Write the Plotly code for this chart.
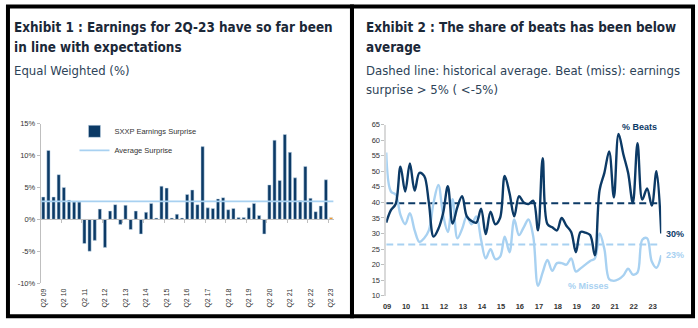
import pandas as pd
import plotly.graph_objects as go

W, H = 698, 328

# ---- Exhibit 1: quarterly SXXP earnings surprise, equal weighted (%) ----
surprise = [3.5, 10.8, 3.5, 7.0, 5.0, 3.0, 2.7, 2.7,
            -3.8, -5.0, -3.3, 1.6, -4.4, 1.3, 2.3, -0.8,
            2.2, -1.6, 1.3, -2.3, 1.1, 2.5, 0.2, 5.2,
            4.9, 0.2, 0.8, 0.2, 3.9, 4.6, 2.3, 11.4,
            1.8, 1.7, 3.2, 3.4, 1.5, 1.7, 0.3, 0.3,
            1.8, 2.5, 0.6, -2.3, 5.4, 12.4, 6.1, 13.3,
            10.5, 6.5, 2.9, 8.3, 3.3, 1.2, 2.1, 6.2,
            0.3]
average_surprise = 2.8
quarter_ticks = ["Q2 09", "Q2 10", "Q2 11", "Q2 12", "Q2 13", "Q2 14", "Q2 15",
                 "Q2 16", "Q2 17", "Q2 18", "Q2 19", "Q2 20", "Q2 21", "Q2 22",
                 "Q2 23"]
surprise_yticks = [-10, -5, 0, 5, 10, 15]
surprise_yticktext = ["-10%", "-5%", "0%", "5%", "10%", "15%"]

# ---- Exhibit 2: share of beats / misses (%) ----
beats = [33.5, 37.5, 39.5, 51.5, 43.5, 52.5, 43.8, 49.5, 48.5, 40.0,
         29.0, 31.5, 36.5, 45.2, 33.2, 38.5, 42.0, 35.5, 34.0, 33.5,
         38.0, 29.8, 37.0, 33.0, 35.0, 48.5, 43.0, 35.5, 42.0, 40.0,
         39.5, 40.5, 31.0, 54.2, 33.0, 32.0, 31.0, 35.0, 32.5, 30.5,
         24.0, 30.5, 30.3, 29.5, 23.0, 44.0, 49.5, 56.4, 41.6, 62.0,
         55.5, 49.5, 39.8, 59.0, 40.9, 44.5, 39.0, 50.0, 30.0]
misses = [56.0, 43.5, 42.5, 36.0, 33.0, 36.5, 31.0, 27.3, 28.5, 31.0,
          40.0, 45.6, 36.0, 30.5, 41.0, 28.5, 31.5, 35.5, 33.0, 35.5,
          28.0, 22.0, 25.0, 21.8, 22.5, 29.0, 24.0, 34.5, 29.5, 32.0,
          34.5, 29.0, 13.2, 17.5, 21.5, 18.0, 20.5, 20.5, 20.0, 22.0,
          17.8, 18.8, 20.0, 21.2, 22.0, 30.0, 25.0, 15.3, 14.8, 15.3,
          16.5, 18.7, 16.8, 17.5, 28.0, 28.5, 21.0, 19.0, 23.0]
beats_avg = 39.7
misses_avg = 26.5
year_ticks = ["09", "10", "11", "12", "13", "14", "15", "16",
              "17", "18", "19", "20", "21", "22", "23"]

NAVY = "#0c3a66"
LIGHT = "#a8d1f1"
ORANGE = "#f7941d"
TITLE = "#1b2838"
SUB = "#2d4358"
TICK = "#333333"
AXIS = "#bfbfbf"


def fx(px):
    return px / W


def fy(py):
    return 1 - py / H


fig = go.Figure()

# ---- left panel ----
cats = list(range(len(surprise)))
bar_colors = [NAVY] * (len(surprise) - 1) + [ORANGE]
fig.add_trace(go.Bar(
    x=cats, y=surprise, name="SXXP Earnings Surprise",
    marker=dict(color=bar_colors, line=dict(color="#c9dcec", width=0.5)),
    xaxis="x", yaxis="y", showlegend=True,
))
fig.add_trace(go.Scatter(
    x=[-0.5, len(surprise) - 0.5], y=[average_surprise] * 2,
    mode="lines", name="Average Surprise",
    line=dict(color=LIGHT, width=1.8),
    xaxis="x2", yaxis="y", showlegend=True,
))

# ---- right panel ----
dates = pd.date_range("2008-12-01", periods=len(beats), freq="3MS") + pd.Timedelta(days=14)
fig.add_trace(go.Scatter(
    x=[dates[0], dates[-1]], y=[beats_avg] * 2, mode="lines",
    line=dict(color=NAVY, width=2, dash="7px,4px"),
    xaxis="x3", yaxis="y3", showlegend=False,
))
fig.add_trace(go.Scatter(
    x=[dates[0], dates[-1]], y=[misses_avg] * 2, mode="lines",
    line=dict(color=LIGHT, width=2, dash="7px,4px"),
    xaxis="x3", yaxis="y3", showlegend=False,
))
fig.add_trace(go.Scatter(
    x=dates, y=misses, mode="lines", name="% Misses",
    line=dict(color=LIGHT, width=2.4, shape="spline", smoothing=1.0),
    xaxis="x3", yaxis="y3", showlegend=False,
))
fig.add_trace(go.Scatter(
    x=dates, y=beats, mode="lines", name="% Beats",
    line=dict(color=NAVY, width=2.4, shape="spline", smoothing=1.0),
    xaxis="x3", yaxis="y3", showlegend=False,
))

small = dict(family="Liberation Sans, Arial, sans-serif", size=7.5, color=TICK)
y_dom_left = [fy(287), fy(123)]
zero_pos = y_dom_left[0] + (0 - surprise_yticks[0]) / (surprise_yticks[-1] - surprise_yticks[0]) * (y_dom_left[1] - y_dom_left[0])

fig.update_layout(
    width=W, height=H,
    margin=dict(l=0, r=0, t=0, b=0),
    paper_bgcolor="white", plot_bgcolor="white",
    bargap=0.38,
    xaxis=dict(
        domain=[fx(38), fx(333)], range=[-0.5, len(surprise) - 0.5],
        tickvals=cats[::4], ticktext=quarter_ticks, tickangle=-90,
        tickfont=dict(family="Liberation Sans, Arial, sans-serif", size=7, color=TICK),
        showgrid=False, zeroline=False, showline=False, ticks="",
        ticklabelstandoff=3, anchor="y", fixedrange=True,
    ),
    xaxis2=dict(
        domain=[fx(38), fx(333)], range=[-0.5, len(surprise) - 0.5],
        overlaying="x", anchor="free", position=zero_pos, side="bottom",
        tickvals=[c - 0.5 for c in cats[::4]], showticklabels=False,
        ticks="outside", ticklen=3, tickcolor=AXIS, tickwidth=1,
        showline=True, linecolor=AXIS, linewidth=1,
        showgrid=False, zeroline=False,
    ),
    yaxis=dict(
        domain=y_dom_left, range=[surprise_yticks[0], surprise_yticks[-1]],
        tickvals=surprise_yticks, ticktext=surprise_yticktext, tickfont=small,
        showgrid=False, zeroline=False, showline=True, linecolor=AXIS, linewidth=1,
        ticks="outside", ticklen=3, tickcolor=AXIS, anchor="x",
    ),
    xaxis3=dict(
        domain=[fx(386), fx(663)], range=[dates[0], dates[-1]], type="date",
        tickvals=[pd.Timestamp(f"20{t}-01-01") for t in year_ticks], ticktext=year_ticks,
        tickfont=dict(family="Liberation Sans, Arial, sans-serif", size=7.5,
                      color=TICK, weight="bold"),
        showgrid=False, zeroline=False, showline=False, ticks="",
        ticklabelstandoff=5, anchor="y3",
    ),
    yaxis3=dict(
        domain=[fy(300), fy(124)], range=[10, 65], dtick=5, tick0=10,
        tickfont=small, showgrid=False, zeroline=False,
        showline=True, linecolor="#d9d9d9", linewidth=1.5,
        ticks="outside", ticklen=3, tickcolor=AXIS, anchor="x3",
    ),
    legend=dict(
        x=fx(72), y=fy(116), xanchor="left", yanchor="top",
        font=dict(family="Liberation Sans, Arial, sans-serif", size=7.5, color=TICK),
        bgcolor="rgba(0,0,0,0)", itemwidth=30, tracegroupgap=4,
    ),
)

# panel frames
for x0, x1 in [(5, 351.5), (351.5, 695)]:
    fig.add_shape(type="rect", xref="paper", yref="paper",
                  x0=fx(x0), x1=fx(x1), y0=fy(321), y1=fy(2.5),
                  line=dict(color="black", width=4), fillcolor="rgba(0,0,0,0)")

TFONT = "DejaVu Sans Condensed, Liberation Sans Narrow, sans-serif"
texts = [
    ("Exhibit 1 : Earnings for 2Q-23 have so far been", 9, 24, True),
    ("in line with expectations", 9, 45, True),
    ("Equal Weighted (%)", 9, 68, False),
    ("Exhibit 2 : The share of beats has been below", 363.5, 24, True),
    ("average", 363.5, 45, True),
    ("Dashed line: historical average. Beat (miss): earnings", 363.5, 68, False),
    ("surprise &gt; 5% ( &lt;-5%)", 363.5, 88, False),
]
for txt, x, y, bold in texts:
    fig.add_annotation(
        text=txt, xref="paper", yref="paper", x=fx(x), y=fy(y),
        xanchor="left", yanchor="middle", showarrow=False,
        font=dict(family=TFONT, size=13.4 if bold else 13,
                  color=TITLE if bold else SUB, weight="bold" if bold else "normal"),
    )

lab = dict(family="Liberation Sans, Arial, sans-serif", size=9, weight="bold")
fig.add_annotation(text="% Beats", x=pd.Timestamp("2022-05-01"), y=64.2,
                   xref="x3", yref="y3", showarrow=False,
                   font=dict(lab, color=NAVY))
fig.add_annotation(text="% Misses", x=pd.Timestamp("2019-08-15"), y=13.1,
                   xref="x3", yref="y3", showarrow=False,
                   font=dict(lab, color=LIGHT))
fig.add_annotation(text=f"{beats[-1]:.0f}%", x=dates[-1], y=beats[-1],
                   xref="x3", yref="y3", showarrow=False, xanchor="left", xshift=3,
                   font=dict(lab, color=NAVY))
fig.add_annotation(text=f"{misses[-1]:.0f}%", x=dates[-1], y=misses[-1],
                   xref="x3", yref="y3", showarrow=False, xanchor="left", xshift=3,
                   font=dict(lab, color=LIGHT))

fig.write_html("out.html")
